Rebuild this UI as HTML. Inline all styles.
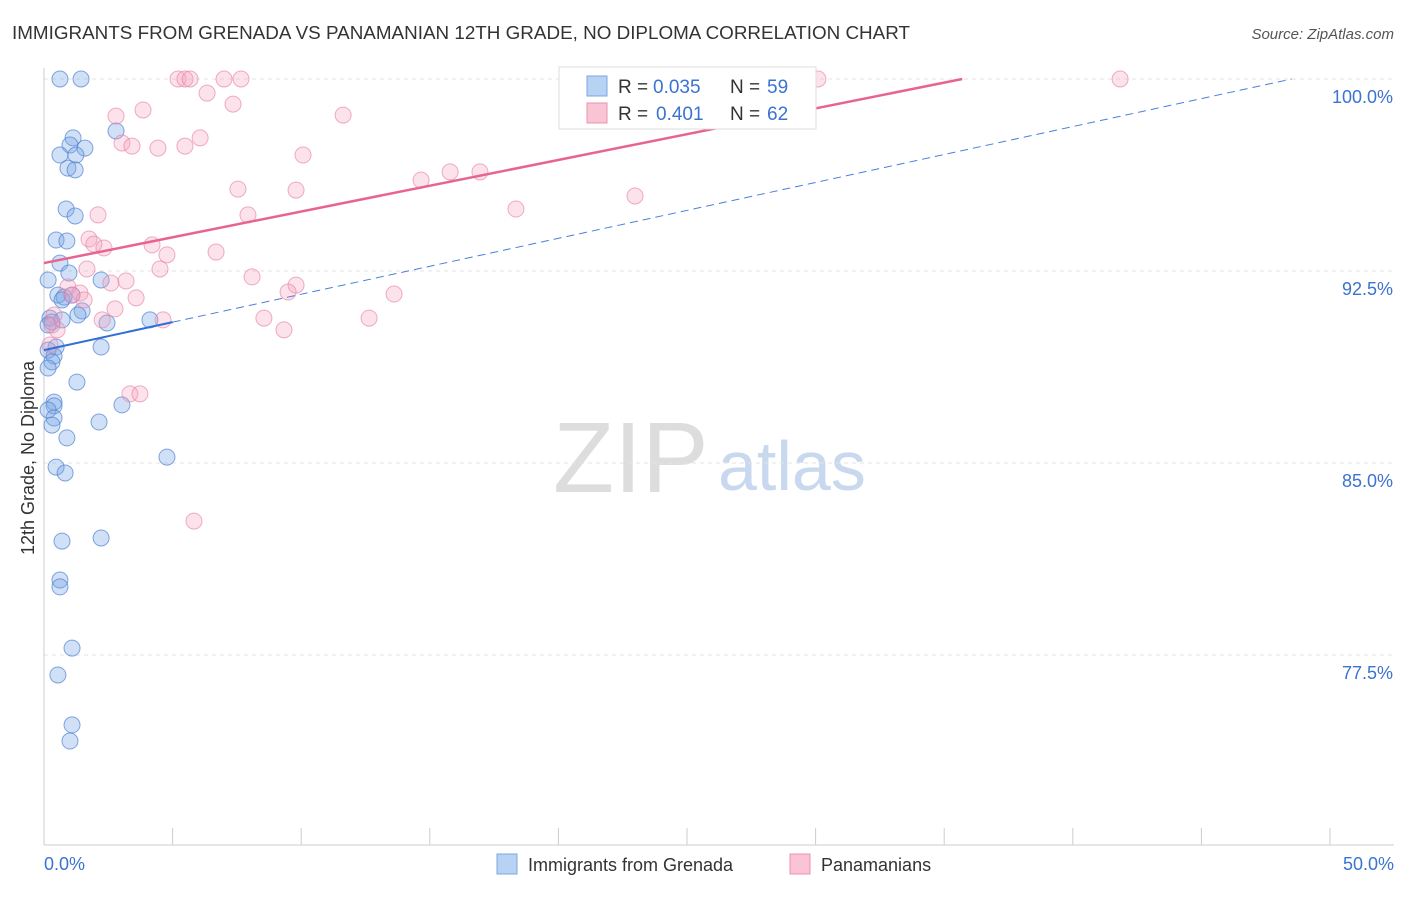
<!DOCTYPE html>
<html><head><meta charset="utf-8"><style>
body{margin:0;background:#fff;font-family:"Liberation Sans",sans-serif;}
svg text{font-family:"Liberation Sans",sans-serif;}
</style></head><body>
<svg id="chart" width="1406" height="892">
<text x="12" y="39" font-size="18" fill="#333" textLength="898" lengthAdjust="spacingAndGlyphs">IMMIGRANTS FROM GRENADA VS PANAMANIAN 12TH GRADE, NO DIPLOMA CORRELATION CHART</text>
<text x="1394" y="39" font-size="15" fill="#555" font-style="italic" text-anchor="end">Source: ZipAtlas.com</text>
<text x="34" y="458" font-size="18" fill="#333" transform="rotate(-90 34 458)" text-anchor="middle">12th Grade, No Diploma</text>
<text x="553" y="492" font-size="100" fill="#ddd" font-family="Liberation Serif">ZIP</text>
<text x="718" y="490" font-size="70" fill="#c8d8ee">atlas</text>
<g id="grid"></g><g id="axes"></g><g id="pts"></g><g id="trend"></g>
<g>
<rect x="559" y="67" width="257" height="62" fill="#fff" stroke="#ddd"/>
<rect x="587" y="76" width="20" height="20" fill="#b8d2f4" stroke="#7aa7e6"/>
<rect x="587" y="103" width="20" height="20" fill="#f9c4d4" stroke="#eb94b0"/>
<text x="618" y="93" font-size="19" fill="#333">R =</text>
<text x="653" y="93" font-size="19" fill="#3a73d0">0.035</text>
<text x="730" y="93" font-size="19" fill="#333">N =</text>
<text x="767" y="93" font-size="19" fill="#3a73d0">59</text>
<text x="618" y="120" font-size="19" fill="#333">R =</text>
<text x="656" y="120" font-size="19" fill="#3a73d0">0.401</text>
<text x="730" y="120" font-size="19" fill="#333">N =</text>
<text x="767" y="120" font-size="19" fill="#3a73d0">62</text>
</g>
<g>
<rect x="497" y="854" width="20" height="20" fill="#b8d2f4" stroke="#7aa7e6"/>
<text x="528" y="871" font-size="18" fill="#333">Immigrants from Grenada</text>
<rect x="790" y="854" width="20" height="20" fill="#f9c4d4" stroke="#eb94b0"/>
<text x="821" y="871" font-size="18" fill="#333">Panamanians</text>
</g>
</svg>
<script>
const yTicks=[100,92.5,85,77.5];
const yTickLabels=["100.0%","92.5%","85.0%","77.5%"];
const blueX=[0.62,1.44,2.80,1.13,1.01,1.59,0.62,1.24,0.93,1.21,0.86,1.21,0.47,0.89,0.62,0.97,0.16,2.22,0.54,0.78,0.70,1.09,1.48,1.32,0.23,0.31,2.45,4.12,0.70,0.16,0.47,2.22,0.16,0.39,0.31,0.16,1.28,0.39,0.39,0.16,0.39,0.31,0.89,2.14,3.03,4.78,0.47,0.82,0.70,2.22,0.62,0.62,1.09,0.54,1.09,1.01];
const blueY=[100,100,97.97,97.70,97.42,97.30,97.03,97.03,96.52,96.45,94.92,94.65,93.71,93.67,92.81,92.42,92.15,92.15,91.56,91.48,91.37,91.56,90.94,90.78,90.66,90.51,90.47,90.59,90.59,90.39,89.53,89.53,89.41,89.18,88.95,88.71,88.16,87.38,87.23,87.07,86.76,86.48,85.98,86.60,87.27,85.23,84.84,84.61,81.95,82.07,80.43,80.16,77.77,76.72,74.77,74.14];
const pinkX=[5.21,5.48,5.68,7.00,7.66,23.17,30.09,41.84,6.34,2.80,3.85,7.35,11.63,3.03,3.42,4.43,5.48,6.07,10.07,7.54,9.80,14.66,15.79,16.95,18.35,22.98,2.10,7.93,1.75,1.94,2.33,4.20,6.69,4.78,4.51,1.67,8.09,9.80,9.49,13.61,3.19,2.60,0.93,1.40,1.09,3.58,1.56,2.76,0.39,2.26,4.63,8.55,12.64,0.51,9.33,0.31,3.34,3.73,5.83,0.23];
const pinkY=[100,100,100,100,100,100,100,100,99.45,98.55,98.79,99.02,98.59,97.50,97.38,97.30,97.38,97.70,97.03,95.70,95.66,96.05,96.37,96.37,94.92,95.43,94.69,94.69,93.75,93.55,93.40,93.52,93.24,93.13,92.58,92.58,92.27,91.95,91.68,91.60,92.11,92.03,91.88,91.64,91.56,91.45,91.37,91.02,90.78,90.59,90.59,90.66,90.66,90.20,90.20,90.39,87.70,87.70,82.73,89.61];
const blueTrend=[89.41,0.2183];
const pinkTrend=[92.81,0.2014];
const X=v=>44+v*25.72, Y=v=>79+(100-v)*25.6;
const NS="http://www.w3.org/2000/svg";
function mk(p,t,a){const e=document.createElementNS(NS,t);for(const k in a)e.setAttribute(k,a[k]);document.getElementById(p).appendChild(e);return e;}
yTicks.forEach((t,i)=>{
 const l=mk('grid','line',{x1:44,x2:1394,y1:Y(t),y2:Y(t),stroke:'#e3e3e3','stroke-dasharray':'4,4'});
 
 
 const tx=mk('grid','text',{x:1393,y:Y(t)+24,'font-size':18,fill:'#3a73d0','text-anchor':'end'});tx.textContent=yTickLabels[i];
 
 
});
mk('axes','line',{x1:44,x2:44,y1:68,y2:845,stroke:'#ccc'});
mk('axes','line',{x1:44,x2:1394,y1:845,y2:845,stroke:'#ccc'});
for(let i=0;i<=10;i++){const t=mk('axes','line',{x1:X(i*5),x2:X(i*5),y1:828,y2:845,stroke:'#ccc'});
 
 }
const a=mk('axes','text',{x:44,y:870,'font-size':18,fill:'#3a73d0'});a.textContent='0.0%';


const b=mk('axes','text',{x:1394,y:870,'font-size':18,fill:'#3a73d0','text-anchor':'end'});b.textContent='50.0%';


blueX.forEach((v,i)=>{const c=mk('pts','circle',{cx:X(v),cy:Y(blueY[i]),r:8,fill:'rgba(120,165,230,0.35)',stroke:'rgba(80,130,210,0.7)'});
 
 });
pinkX.forEach((v,i)=>{const c=mk('pts','circle',{cx:X(v),cy:Y(pinkY[i]),r:8,fill:'rgba(245,160,190,0.3)',stroke:'rgba(230,130,165,0.65)'});
 
 });
const bxEnd=(100-blueTrend[0])/blueTrend[1];
let l1=mk('trend','line',{x1:X(0),y1:Y(blueTrend[0]),x2:X(5),y2:Y(blueTrend[0]+5*blueTrend[1]),stroke:'#2f6fd6','stroke-width':2});


let l2=mk('trend','line',{x1:X(5),y1:Y(blueTrend[0]+5*blueTrend[1]),x2:X(bxEnd),y2:Y(100),stroke:'#4a80d8','stroke-width':1,'stroke-dasharray':'8,5'});


const pxEnd=(100-pinkTrend[0])/pinkTrend[1];
let l3=mk('trend','line',{x1:X(0),y1:Y(pinkTrend[0]),x2:X(pxEnd),y2:Y(100),stroke:'#e8648f','stroke-width':2.5});


</script>
</body></html>
